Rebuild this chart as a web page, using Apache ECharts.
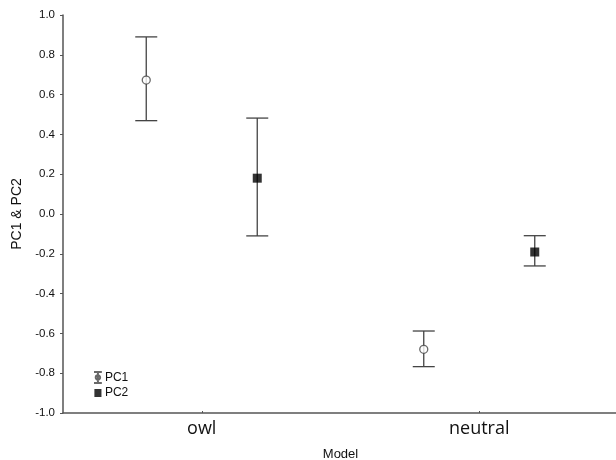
<!DOCTYPE html>
<html><head><meta charset="utf-8">
<script src="https://cdn.jsdelivr.net/npm/echarts@6/dist/echarts.min.js"></script>
<style>html,body{margin:0;padding:0;background:#fff}#c{width:616px;height:460px}</style>
</head><body><div id="c"></div>
<script>
var categories = ['owl', 'neutral'];
var pc1Mean = [0.673, -0.68];
var pc1Upper = [0.890, -0.588];
var pc1Lower = [0.469, -0.767];
var pc2Mean = [0.180, -0.191];
var pc2Upper = [0.482, -0.109];
var pc2Lower = [-0.110, -0.261];
var yTicks = [-1.0, -0.8, -0.6, -0.4, -0.2, 0.0, 0.2, 0.4, 0.6, 0.8, 1.0];

var OFF = 0.2;
var axisColor = '#555';
var chart = echarts.init(document.getElementById('c'));

function errData(lo, hi, off) {
  return categories.map(function (c, i) { return [i + off, lo[i], hi[i]]; });
}
function ptData(m, off) {
  return categories.map(function (c, i) { return [i + off, m[i]]; });
}
function errRender(params, api) {
  var x = api.value(0);
  var lo = api.coord([x, api.value(1)]);
  var hi = api.coord([x, api.value(2)]);
  var hw = 11;
  var st = { stroke: '#444', lineWidth: 1.3 };
  return {
    type: 'group',
    children: [
      { type: 'line', shape: { x1: hi[0], y1: hi[1], x2: lo[0], y2: lo[1] }, style: st },
      { type: 'line', shape: { x1: hi[0] - hw, y1: hi[1], x2: hi[0] + hw, y2: hi[1] }, style: st },
      { type: 'line', shape: { x1: lo[0] - hw, y1: lo[1], x2: lo[0] + hw, y2: lo[1] }, style: st }
    ]
  };
}

chart.setOption({
  animation: false,
  backgroundColor: '#fff',
  grid: { left: 63, right: -2, top: 15, bottom: 47, containLabel: false, outerBoundsMode: 'none' },
  legend: {
    orient: 'vertical', left: 88, top: 366, itemWidth: 10, itemHeight: 11, itemGap: 3,
    textStyle: { fontFamily: 'Liberation Sans', fontSize: 12, color: '#111', padding: [0, 0, 0, -3] },
    data: [
      { name: 'PC1', icon: 'path://M0,0H10M5,0V14M0,14H10M5,4.2A2.8,2.8 0 1,1 4.99,4.2Z' },
      { name: 'PC2', icon: 'path://M0,0H10M5,0V2M0.5,2H9.5V12H0.5ZM5,12V14M0,14H10' }
    ]
  },
  xAxis: {
    type: 'value', min: -0.5, max: 1.5,
    name: 'Model', nameLocation: 'middle', nameGap: 35,
    nameTextStyle: { fontFamily: 'Liberation Sans', fontSize: 13, color: '#111' },
    axisLine: { show: true, onZero: false, lineStyle: { color: axisColor, width: 1.5 } },
    axisTick: { show: true, inside: true, length: 2, customValues: [0, 1], lineStyle: { color: axisColor } },
    axisLabel: {
      customValues: [0, 1], margin: 7,
      formatter: function (v) { return categories[Math.round(v)]; },
      fontFamily: 'Open Sans', fontSize: 18, color: '#111'
    },
    splitLine: { show: false }
  },
  yAxis: {
    type: 'value', min: -1, max: 1, interval: 0.2,
    name: 'PC1 & PC2', nameLocation: 'middle', nameGap: 37, nameRotate: 90,
    nameTextStyle: { fontFamily: 'Liberation Sans', fontSize: 14, color: '#111' },
    axisLine: { show: true, onZero: false, lineStyle: { color: axisColor, width: 1.5 } },
    axisTick: { show: true, length: 3, lineStyle: { color: axisColor } },
    axisLabel: {
      margin: 8, fontFamily: 'Liberation Sans', fontSize: 11.5, color: '#111',
      formatter: function (v) {
        var t = yTicks.reduce(function (a, b) { return Math.abs(b - v) < Math.abs(a - v) ? b : a; });
        return t.toFixed(1);
      }
    },
    splitLine: { show: false }
  },
  series: [
    { type: 'custom', name: 'PC1err', renderItem: errRender, data: errData(pc1Lower, pc1Upper, -OFF), encode: { x: 0, y: [1, 2] }, z: 1 },
    { type: 'custom', name: 'PC2err', renderItem: errRender, data: errData(pc2Lower, pc2Upper, OFF), encode: { x: 0, y: [1, 2] }, z: 1 },
    { type: 'scatter', name: 'PC1', data: ptData(pc1Mean, -OFF), symbol: 'circle', symbolSize: 8,
      itemStyle: { color: '#fff', borderColor: '#444', borderWidth: 1.3 }, z: 3 },
    { type: 'scatter', name: 'PC2', data: ptData(pc2Mean, OFF), symbol: 'rect', symbolSize: 9,
      itemStyle: { color: '#000' }, z: 3 }
  ]
});
</script></body></html>
